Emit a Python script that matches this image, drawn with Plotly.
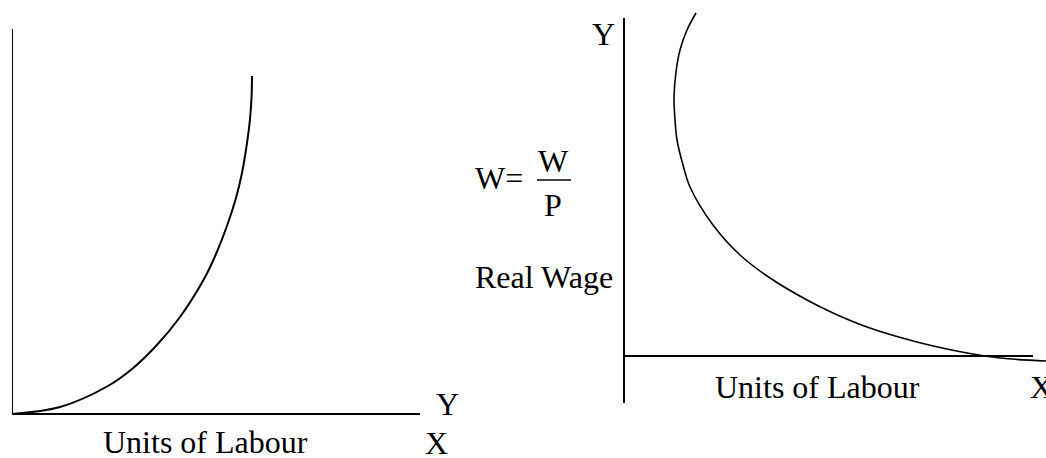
import plotly.graph_objects as go

W, H = 1046, 458

# Left panel: curve (units of labour vs. output), 1 unit ~ 1 px
left_x = [0, 48, 96, 120, 144, 168, 192, 204, 216, 224, 230, 235, 238, 239.6, 240]
left_y = [0, 7, 28, 45, 68, 97, 135, 160, 191, 216, 241, 271, 295, 318, 338]

# Right panel: backward bending curve
right_x = [72, 63, 56, 52, 50, 51, 53, 59, 66, 89, 116, 146, 183, 209, 243, 293, 343, 376, 422]
right_y = [343, 326, 306, 284, 259, 236, 216, 191, 169, 131, 101, 78, 56, 43, 29, 14, 3, -2, -5]

left_axis_len_x, left_axis_len_y = 408, 385
right_axis_len_x, right_axis_top, right_axis_bottom = 409, 338, -47

FONT = "Liberation Serif, Times New Roman, Times, DejaVu Serif, serif"
FS = 32


def px(x):
    return x / W


def py(y):
    return (H - y) / H


fig = go.Figure()
fig.add_trace(go.Scatter(x=left_x, y=left_y, mode="lines",
                         line=dict(color="black", width=2, shape="spline"),
                         xaxis="x", yaxis="y", showlegend=False, hoverinfo="skip"))
fig.add_trace(go.Scatter(x=right_x, y=right_y, mode="lines",
                         line=dict(color="black", width=1.6, shape="spline"),
                         xaxis="x2", yaxis="y2", showlegend=False, hoverinfo="skip"))

ax_common = dict(visible=False, showgrid=False, zeroline=False, fixedrange=True)
fig.update_layout(
    width=W, height=H,
    margin=dict(l=0, r=0, t=0, b=0),
    paper_bgcolor="white", plot_bgcolor="white",
    xaxis=dict(domain=[px(12), px(430)], range=[0, 418], **ax_common),
    yaxis=dict(domain=[py(420), py(20)], range=[-6, 394], **ax_common),
    xaxis2=dict(domain=[px(610), px(1046)], range=[-14, 422], anchor="y2", **ax_common),
    yaxis2=dict(domain=[py(410), py(5)], range=[-54, 351], anchor="x2", **ax_common),
    showlegend=False,
)

line = dict(color="black", width=2)
shapes = [
    dict(type="line", xref="x", yref="y", x0=0, y0=0, x1=0, y1=left_axis_len_y, line=line),
    dict(type="line", xref="x", yref="y", x0=0, y0=0, x1=left_axis_len_x, y1=0, line=line),
    dict(type="line", xref="x2", yref="y2", x0=0, y0=right_axis_bottom, x1=0, y1=right_axis_top, line=line),
    dict(type="line", xref="x2", yref="y2", x0=0, y0=0, x1=right_axis_len_x, y1=0, line=line),
    # fraction bar of W/P
    dict(type="line", xref="paper", yref="paper", x0=px(537), y0=py(180), x1=px(571), y1=py(180),
         line=dict(color="black", width=1.5)),
]
fig.update_layout(shapes=shapes)


def ann(text, x, y, xanchor="center"):
    fig.add_annotation(text=text, x=px(x), y=py(y), xref="paper", yref="paper",
                       xanchor=xanchor, yanchor="middle", showarrow=False,
                       font=dict(family=FONT, size=FS, color="black"))


ann("Y", 447, 404)
ann("X", 436, 443)
ann("Units of Labour", 205, 442)
ann("Y", 603, 34)
ann("W=", 499, 178)
ann("W", 553, 161)
ann("P", 553, 205)
ann("Real Wage", 544, 277)
ann("Units of Labour", 817, 387)
ann("X", 1028, 387, xanchor="left")

fig.write_html("out.html", config={"displayModeBar": False},
               post_script="document.body.style.margin='0';document.body.style.padding='0';")
